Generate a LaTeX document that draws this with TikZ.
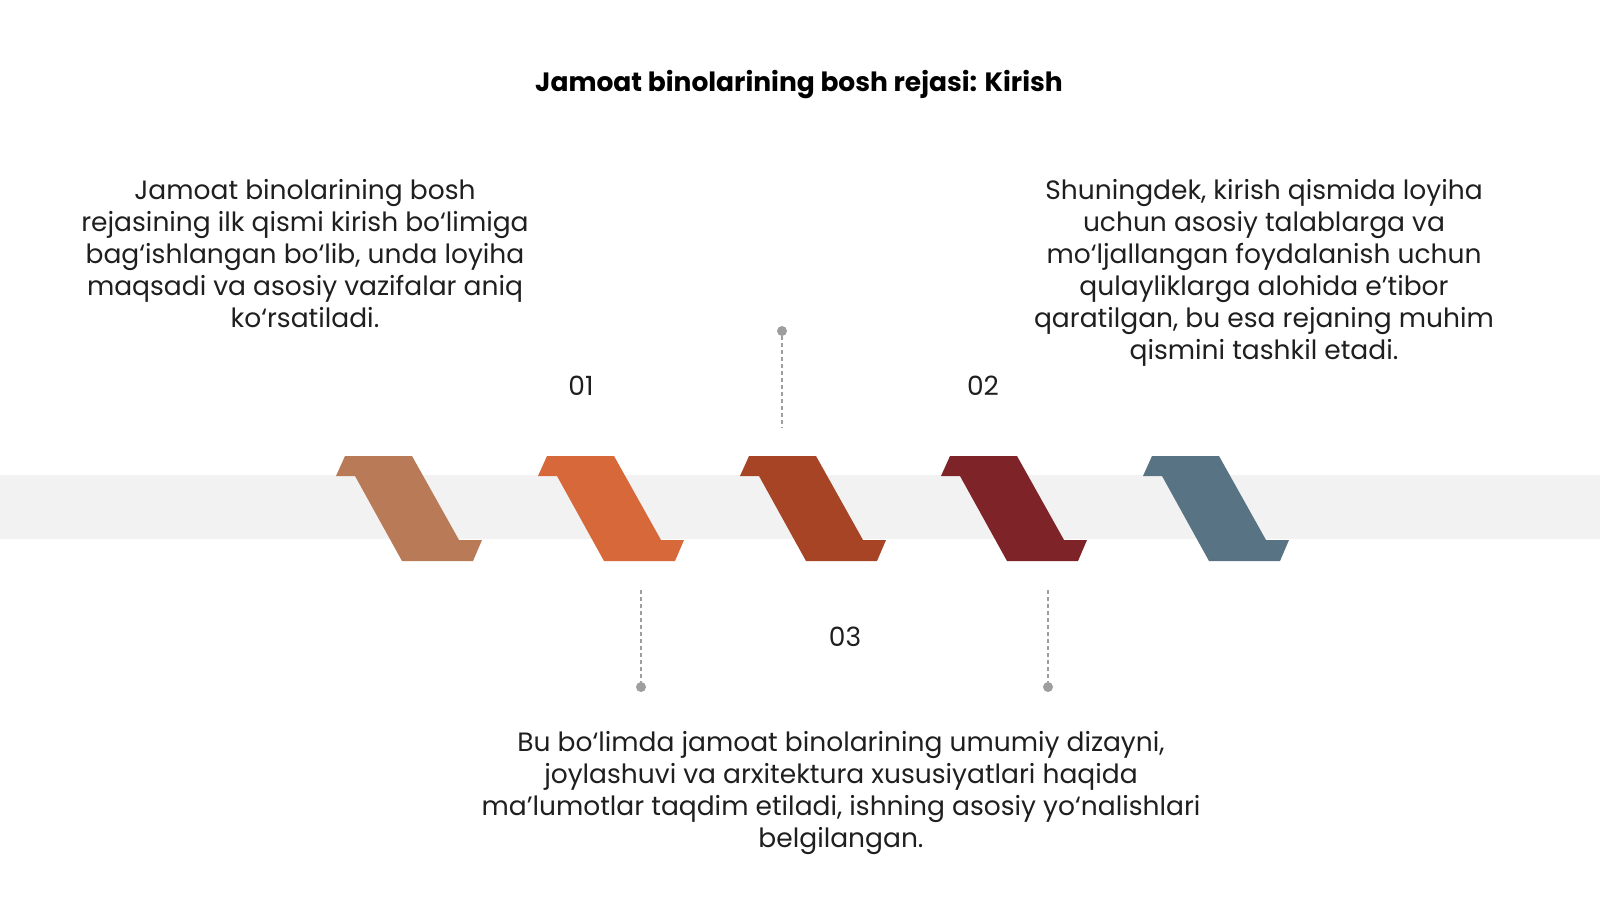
\documentclass[tikz,border=0pt]{standalone}
\usepackage{fontspec}
\setmainfont{Poppins}
\usetikzlibrary{positioning}
\definecolor{bandgray}{HTML}{F2F2F2}
\definecolor{leadgray}{HTML}{9E9E9E}
\definecolor{tanbrown}{HTML}{B97A58}
\definecolor{burntorange}{HTML}{D6683A}
\definecolor{rustred}{HTML}{A84426}
\definecolor{wine}{HTML}{7E2428}
\definecolor{slateblue}{HTML}{587383}
\begin{document}
\begin{tikzpicture}[x=1pt,y=-1pt,
		bodytext/.style={align=center,text=black!88,font=\fontsize{26.5}{32}\selectfont},
		numlabel/.style={text=black!88,font=\fontsize{26.5}{30}\selectfont},
		dotmark/.style={circle,fill=leadgray,minimum size=10pt},
		leader/.style={leadgray,line width=1.4pt,dash pattern=on 4pt off 3pt}]
			\tikzstyle{every node}+=[inner sep=0pt]
			\useasboundingbox (0,0) rectangle (1600,900);
			\fill [white] (0,0) rectangle (1600,900);
			% band behind the steps
			\fill [bandgray] (0,475) rectangle (1600,539);
			\fill [tanbrown] (345,456) -- (412,456) -- (459,540) -- (482,540) -- (473,561) -- (402,561) -- (355,476) -- (336,476) -- cycle;
			\fill [burntorange] (547,456) -- (614,456) -- (661,540) -- (684,540) -- (675,561) -- (604,561) -- (557,476) -- (538,476) -- cycle;
			\fill [rustred] (749,456) -- (816,456) -- (863,540) -- (886,540) -- (877,561) -- (806,561) -- (759,476) -- (740,476) -- cycle;
			\fill [wine] (950,456) -- (1017,456) -- (1064,540) -- (1087,540) -- (1078,561) -- (1007,561) -- (960,476) -- (941,476) -- cycle;
			\fill [slateblue] (1152,456) -- (1219,456) -- (1266,540) -- (1289,540) -- (1280,561) -- (1209,561) -- (1162,476) -- (1143,476) -- cycle;
			% leaders
			\node [dotmark] (dottop) at (782,331) {};
			\coordinate (endtop) at (782,428);
			\draw [leader] (dottop) -- (endtop);
			\node [dotmark] (dotleft) at (641,687) {};
			\coordinate (endleft) at (641,590);
			\draw [leader] (endleft) -- (dotleft);
			\node [dotmark] (dotright) at (1048,687) {};
			\coordinate (endright) at (1048,590);
			\draw [leader] (endright) -- (dotright);
			% texts
			\node [font=\bfseries\fontsize{26.5}{30}\selectfont] (title) at (799,85) {Jamoat binolarining bosh rejasi: Kirish};
			\node [numlabel] (one) at (581,386) {01};
			\node [numlabel] (two) at (983,386) {02};
			\node [numlabel] (three) at (845,637) {03};
			\node [bodytext] (lefttext) at (305,254) {Jamoat binolarining bosh\\rejasining ilk qismi kirish bo‘limiga\\bag‘ishlangan bo‘lib, unda loyiha\\maqsadi va asosiy vazifalar aniq\\ko‘rsatiladi.};
			\node [bodytext] (righttext) at (1264,273) {Shuningdek, kirish qismida loyiha\\uchun asosiy talablarga va\\mo‘ljallangan foydalanish uchun\\qulayliklarga alohida e'tibor\\qaratilgan, bu esa rejaning muhim\\qismini tashkil etadi.};
			\node [bodytext] (bottomtext) at (841,793) {Bu bo‘limda jamoat binolarining umumiy dizayni,\\joylashuvi va arxitektura xususiyatlari haqida\\ma’lumotlar taqdim etiladi, ishning asosiy yo‘nalishlari\\belgilangan.};
\end{tikzpicture}
\end{document}
